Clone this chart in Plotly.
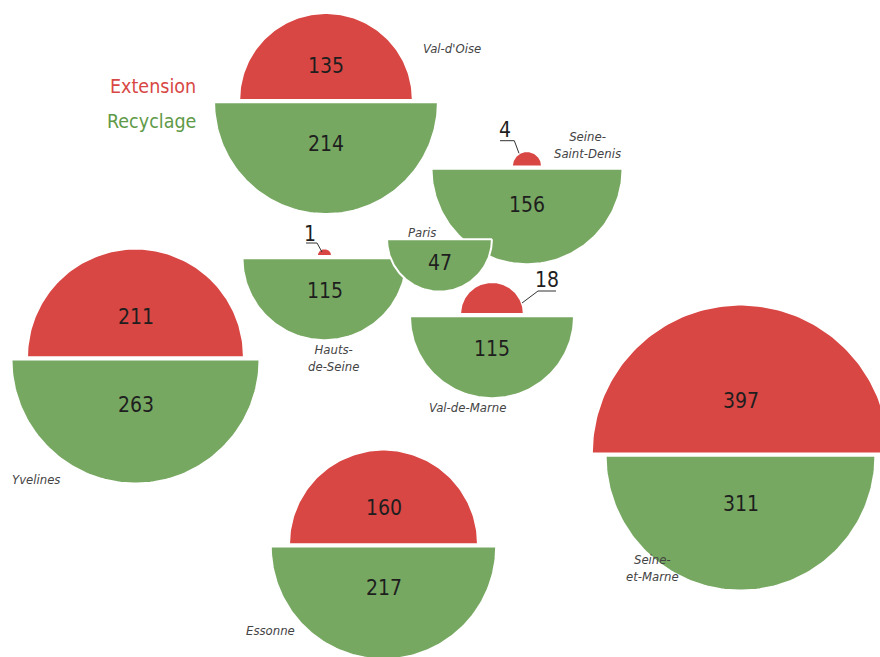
import numpy as np
import plotly.graph_objects as go

# ---------------- data ----------------
departments = ["Val-d'Oise", "Seine-Saint-Denis", "Paris", "Hauts-de-Seine",
               "Val-de-Marne", "Yvelines", "Essonne", "Seine-et-Marne"]
extension = [135, 4, 0, 1, 18, 211, 160, 397]
recyclage = [214, 156, 47, 115, 115, 263, 217, 311]
series_names = ["Extension", "Recyclage"]

# ---------------- layout / styling (not data) ----------------
W, H = 880, 657
RED = "#d84744"
GREEN = "#77a862"
TXT = "#1e1e1e"
LAB = "#444444"
NUM_FONT = "Liberation Sans Narrow, DejaVu Sans Condensed, Roboto, sans-serif"
K_RED = 7.45     # px per sqrt(unit)
K_GREEN = 7.65
GAP = 1.2

# split-line centre of each department (pixel space)
centers = {
    "Val-d'Oise": (326, 101),
    "Seine-Saint-Denis": (527, 167.5),
    "Paris": (439.5, 238),
    "Hauts-de-Seine": (324.5, 257),
    "Val-de-Marne": (492, 315),
    "Yvelines": (135.5, 358.3),
    "Essonne": (383.5, 545.3),
    "Seine-et-Marne": (740.5, 454.5),
}
name_labels = {
    "Val-d'Oise": ("Val-d'Oise", 452, 48),
    "Seine-Saint-Denis": ("Seine-<br>Saint-Denis", 587, 145),
    "Paris": ("Paris", 422, 232),
    "Hauts-de-Seine": ("Hauts-<br>de-Seine", 333.5, 358),
    "Val-de-Marne": ("Val-de-Marne", 467, 407),
    "Yvelines": ("Yvelines", 36, 479),
    "Essonne": ("Essonne", 270, 630),
    "Seine-et-Marne": ("Seine-<br>et-Marne", 652, 568),
}
# callouts for red halves too small to hold their value
callouts = {
    "Seine-Saint-Denis": ((505, 130), [(500, 140.7), (514.3, 140.7), (519, 153.3)]),
    "Hauts-de-Seine": ((310, 234), [(306, 243), (317, 243), (322, 252)]),
    "Val-de-Marne": ((547, 280), [(556, 291), (538, 291), (522, 303)]),
}
draw_order = ["Val-d'Oise", "Yvelines", "Essonne", "Seine-et-Marne",
              "Seine-Saint-Denis", "Hauts-de-Seine", "Val-de-Marne", "Paris"]


def label_offset(r):
    return 8 + 0.3 * r


fig = go.Figure()


def half(cx, cy, r, up):
    t = np.linspace(0, np.pi, 120)
    xs = cx + r * np.cos(t)
    ys = cy - r * np.sin(t) if up else cy + r * np.sin(t)
    return np.append(xs, xs[0]), np.append(ys, ys[0])


NUM = dict(size=21, color=TXT, family=NUM_FONT)
annotations = []
for dep in draw_order:
    i = departments.index(dep)
    cx, cy = centers[dep]
    ext, rec = extension[i], recyclage[i]
    r_red = K_RED * np.sqrt(ext)
    r_green = K_GREEN * np.sqrt(rec)
    if ext > 0:
        xs, ys = half(cx, cy - GAP, r_red, True)
        fig.add_trace(go.Scatter(x=xs, y=ys, mode="lines", fill="toself",
                                 fillcolor=RED, line=dict(color="white", width=1.5),
                                 hoverinfo="skip", showlegend=False))
    xs, ys = half(cx, cy + GAP, r_green, False)
    fig.add_trace(go.Scatter(x=xs, y=ys, mode="lines", fill="toself",
                             fillcolor=GREEN, line=dict(color="white", width=2),
                             hoverinfo="skip", showlegend=False))
    # value labels
    annotations.append(dict(x=cx, y=cy + GAP + label_offset(r_green), text=str(rec),
                            showarrow=False, font=NUM,
                            xanchor="center", yanchor="middle"))
    if ext > 0:
        if dep in callouts:
            (tx, ty), pts = callouts[dep]
            annotations.append(dict(x=tx, y=ty, text=str(ext), showarrow=False,
                                    font=NUM, xanchor="center", yanchor="middle"))
            fig.add_trace(go.Scatter(x=[p[0] for p in pts], y=[p[1] for p in pts],
                                     mode="lines", line=dict(color="#333333", width=1),
                                     hoverinfo="skip", showlegend=False))
        else:
            annotations.append(dict(x=cx, y=cy - GAP - label_offset(r_red), text=str(ext),
                                    showarrow=False, font=NUM,
                                    xanchor="center", yanchor="middle"))

for dep in departments:
    txt, lx, ly = name_labels[dep]
    annotations.append(dict(x=lx, y=ly, text="<i>" + txt + "</i>", showarrow=False,
                            font=dict(size=13, color=LAB, family=NUM_FONT),
                            align="center", xanchor="center", yanchor="middle"))

# legend texts
annotations.append(dict(x=198, y=86, text=series_names[0], showarrow=False,
                        font=dict(size=19.5, color=RED, family=NUM_FONT),
                        xanchor="right", yanchor="middle"))
annotations.append(dict(x=198, y=121, text=series_names[1], showarrow=False,
                        font=dict(size=19.5, color="#5f9a48", family=NUM_FONT),
                        xanchor="right", yanchor="middle"))

fig.update_layout(
    width=W, height=H,
    margin=dict(l=0, r=0, t=0, b=0),
    paper_bgcolor="white", plot_bgcolor="white",
    xaxis=dict(range=[0, W], visible=False, fixedrange=True),
    yaxis=dict(range=[H, 0], visible=False, fixedrange=True),
    annotations=annotations,
    showlegend=False,
)

fig.write_html("out.html", config={"displayModeBar": False},
               post_script="document.body.style.margin='0';document.body.style.overflow='hidden';")
